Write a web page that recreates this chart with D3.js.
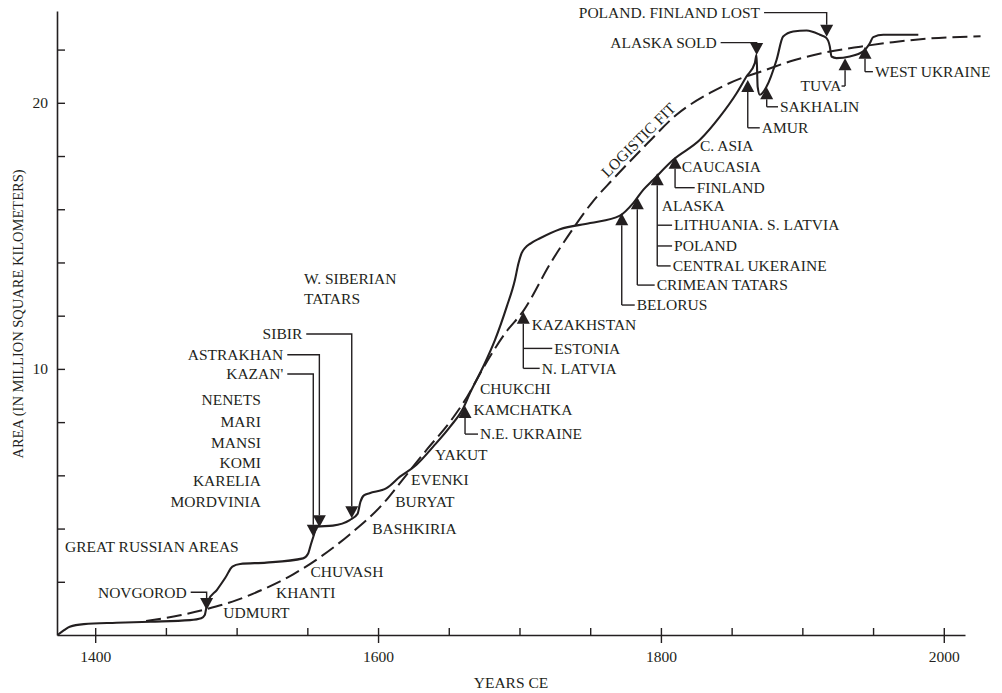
<!DOCTYPE html>
<html><head><meta charset="utf-8">
<script src="https://cdn.jsdelivr.net/npm/d3@7"></script>
<style>
html,body{margin:0;padding:0;background:#fff;}
svg text{font-family:"Liberation Serif","Times New Roman",Times,serif;fill:#231f20;}
</style></head><body>
<svg id="chart" width="1002" height="693"></svg>
<script>
// ---- data: territory of the Russian state (million km²) ----
const years = [1373.4,1378,1382,1392,1415,1439,1467,1475,1477.5,1478.5,1480,1486,1492,1497,1502.5,1521,1547,1550.5,1552.5,1554.3,1556.7,1568,1580,1585.5,1587.5,1590,1594,1606,1615.5,1627,1639,1651,1660,1665,1674.4,1682.7,1691,1696.8,1699.2,1701.5,1704,1708,1714.5,1728.6,1750,1771,1780.4,1787.5,1794.6,1808.7,1827.6,1841.7,1853.5,1860.5,1866.4,1867.6,1868.4,1870,1874.7,1881.8,1886.4,1893.5,1903,1912.4,1917.1,1919.4,1920.6,1924.1,1933.6,1943,1947.7,1950.1,1957.2,1982];
const areas = [0,0.18,0.31,0.41,0.46,0.5,0.56,0.63,0.75,1.0,1.3,1.69,2.15,2.57,2.67,2.72,2.88,3.05,3.4,3.7,4.07,4.11,4.32,4.55,5.0,5.25,5.33,5.52,5.95,6.39,7.08,7.83,8.5,9.09,10.09,11.09,12.34,13.35,13.95,14.35,14.55,14.72,14.91,15.25,15.48,15.76,16.23,16.73,17.11,17.86,18.61,19.48,20.36,20.99,21.49,21.8,20.6,20.3,20.61,21.62,22.49,22.68,22.72,22.56,22.43,22.12,21.74,21.68,21.74,21.93,22.24,22.47,22.56,22.56];

// logistic fit (dashed)
const fitYears = [1436,1460,1479,1500,1521,1540,1557,1580,1604,1618,1635,1651,1663,1674,1690,1703,1722,1738,1752,1766,1790,1811,1835,1858,1870,1894,1917,1941,1964,1988,2026];
const fitAreas = [0.53,0.74,0.98,1.31,1.77,2.28,2.85,3.78,4.96,5.88,7.0,8.02,8.95,10.0,11.35,12.2,13.98,15.28,16.3,17.12,18.45,19.55,20.38,20.95,21.16,21.6,21.9,22.11,22.28,22.41,22.5];

const xTickValues = [1400,1450,1500,1550,1600,1650,1700,1750,1800,1850,1900,1950,2000];
const xTickLabels = [1400,1600,1800,2000];
const yTickValues = [2,4,6,8,10,12,14,16,18,20,22];
const yTickLabels = [10,20];

// losses (down triangles): name, year, area, label year (text end), label area
const lossNames  = ["NOVGOROD","KAZAN'","ASTRAKHAN","SIBIR","ALASKA SOLD","POLAND. FINLAND LOST"];
const lossYears  = [1478.8,1554.2,1558.5,1581.4,1867.7,1917.2];
const lossAreas  = [0.94,3.69,4.05,4.39,21.8,22.48];
const lossLabelYears = [1464.7,1533.0,1533.0,1546.4,1839.4,1870.1];
const lossLabelAreas = [1.605,9.81,10.53,11.31,22.26,23.39];

// acquisitions (up triangles): year, area, labels [text, year, area, connector]
const gainYears = [1661.5,1702.7,1772.3,1783.3,1797.4,1810.0,1861.4,1874.8,1930.2,1944.3];
const gainAreas = [8.61,12.15,15.85,16.45,17.35,17.97,20.86,20.58,21.67,22.11];
const gainLabels = [
  [["CHUKCHI",1672.1,9.27,0],["KAMCHATKA",1667.4,8.46,0],["N.E. UKRAINE",1672.1,7.55,1]],
  [["KAZAKHSTAN",1708.6,11.65,0],["ESTONIA",1724.6,10.77,1],["N. LATVIA",1715.7,10.02,1]],
  [["BELORUS",1782.9,12.40,1]],
  [["CRIMEAN TATARS",1797.0,13.15,1]],
  [["ALASKA",1800.6,16.13,0],["LITHUANIA. S. LATVIA",1809.3,15.40,1],["POLAND",1809.3,14.62,1],["CENTRAL UKERAINE",1808.3,13.87,1]],
  [["CAUCASIA",1814.7,17.60,0],["FINLAND",1825.3,16.81,1]],
  [["AMUR",1871.3,19.06,1]],
  [["SAKHALIN",1884.2,19.85,1]],
  [["TUVA",1927.7,20.63,-1]],
  [["WEST UKRAINE",1951.3,21.17,1]]
];

// free labels
const freeNames = ["W. SIBERIAN","TATARS","NENETS","MARI","MANSI","KOMI","KARELIA","MORDVINIA","GREAT RUSSIAN AREAS","CHUVASH","KHANTI","UDMURT","BASHKIRIA","BURYAT","EVENKI","YAKUT","C. ASIA"];
const freeYears = [1547.6,1547.6,1517.2,1517.2,1517.2,1517.2,1517.2,1517.2,1378.7,1552.2,1527.8,1490.6,1595.9,1612.1,1623.3,1640.3,1827.6];
const freeAreas = [13.37,12.65,8.83,8.02,7.23,6.47,5.79,4.99,3.32,2.38,1.6,0.85,4.01,5.01,5.85,6.78,18.39];
const freeAnchor = ["start","start","end","end","end","end","end","end","start","start","start","start","start","start","start","start","start"];

// ---- drawing ----
const ink = "#231f20";
const FS = 15.5;
const svg = d3.select("#chart");
const x = d3.scaleLinear().domain([1373, 2015]).range([57, 965]);
const y = d3.scaleLinear().domain([0, 23.45]).range([635, 11]);

// X axis
const gx = svg.append("g").attr("transform", `translate(0,${y(0)})`)
  .call(d3.axisBottom(x).tickValues(xTickValues).tickSizeInner(-7).tickSizeOuter(0).tickPadding(16)
    .tickFormat(d => xTickLabels.includes(d) ? String(d) : ""));
gx.select(".domain").attr("stroke", ink).attr("stroke-width", 1.6);
gx.selectAll(".tick line").attr("stroke", ink).attr("stroke-width", 1.4);
gx.selectAll(".tick").filter(d => xTickLabels.includes(d))
  .append("line").attr("y1", 0).attr("y2", 8).attr("stroke", ink).attr("stroke-width", 1.4);
gx.selectAll(".tick text").attr("font-size", FS).attr("font-family", "Liberation Serif").attr("fill", ink);

// Y axis
const gy = svg.append("g").attr("transform", `translate(${x(1373)},0)`)
  .call(d3.axisLeft(y).tickValues(yTickValues).tickSizeInner(-8).tickSizeOuter(0).tickPadding(9)
    .tickFormat(d => yTickLabels.includes(d) ? String(d) : ""));
gy.select(".domain").attr("stroke", ink).attr("stroke-width", 1.6);
gy.selectAll(".tick line").attr("stroke", ink).attr("stroke-width", 1.4);
gy.selectAll(".tick text").attr("font-size", FS).attr("font-family", "Liberation Serif").attr("fill", ink);

// axis titles
svg.append("text").attr("x", 511).attr("y", 688).attr("text-anchor", "middle")
  .attr("font-size", FS).text("YEARS CE");
svg.append("text").attr("transform", "translate(23,314) rotate(-90)").attr("text-anchor", "middle")
  .attr("font-size", 14.5).text("AREA (IN MILLION SQUARE KILOMETERS)");

// curves
const line = d3.line().x(d => x(d[0])).y(d => y(d[1])).curve(d3.curveMonotoneX);
svg.append("path").datum(fitYears.map((t, i) => [t, fitAreas[i]]))
  .attr("d", line).attr("fill", "none").attr("stroke", ink).attr("stroke-width", 2)
  .attr("stroke-dasharray", "15,6");
svg.append("path").datum(years.map((t, i) => [t, areas[i]]))
  .attr("d", line).attr("fill", "none").attr("stroke", ink).attr("stroke-width", 2.1);

// LOGISTIC FIT label
{
  const cx = x(1784.0), cy = y(18.6);
  svg.append("text").attr("transform", `translate(${cx},${cy}) rotate(-45)`)
    .attr("text-anchor", "middle").attr("dy", "0.34em").attr("font-size", FS).text("LOGISTIC FIT");
}

const TW = 6.5, TH = 12, GAP = 4;
const lead = svg.append("g").attr("fill", "none").attr("stroke", ink).attr("stroke-width", 1.4);
const tri = svg.append("g").attr("fill", ink);
const txt = svg.append("g").attr("font-size", FS);

// losses
lossNames.forEach((n, i) => {
  const tx = x(lossYears[i]), ty = y(lossAreas[i]);
  const lx = x(lossLabelYears[i]), ly = y(lossLabelAreas[i]);
  txt.append("text").attr("x", lx).attr("y", ly).attr("dy", "0.34em").attr("text-anchor", "end").text(n);
  lead.append("path").attr("d", `M${lx + GAP},${ly}H${tx}V${ty - TH}`);
  tri.append("path").attr("d", `M${tx - TW},${ty - TH}L${tx + TW},${ty - TH}L${tx},${ty}Z`);
});

// gains
gainYears.forEach((g, i) => {
  const tx = x(g), ty = y(gainAreas[i]);
  tri.append("path").attr("d", `M${tx - TW},${ty + TH}L${tx + TW},${ty + TH}L${tx},${ty}Z`);
  const conn = gainLabels[i].filter(l => l[3] !== 0);
  if (conn.length) {
    const bottom = d3.max(conn, l => y(l[2]));
    lead.append("path").attr("d", `M${tx},${ty + TH}V${bottom}`);
  }
  gainLabels[i].forEach(([name, ly0, la, c]) => {
    const lx = x(ly0), ly = y(la);
    txt.append("text").attr("x", lx).attr("y", ly).attr("dy", "0.34em")
      .attr("text-anchor", c < 0 ? "end" : "start").text(name);
    if (c > 0) lead.append("path").attr("d", `M${tx},${ly}H${lx - 2}`);
    if (c < 0) lead.append("path").attr("d", `M${tx},${ly}H${lx}`);
  });
});

// free labels
freeNames.forEach((n, i) => {
  txt.append("text").attr("x", x(freeYears[i])).attr("y", y(freeAreas[i])).attr("dy", "0.34em")
    .attr("text-anchor", freeAnchor[i]).text(n);
});
</script>
</body></html>
